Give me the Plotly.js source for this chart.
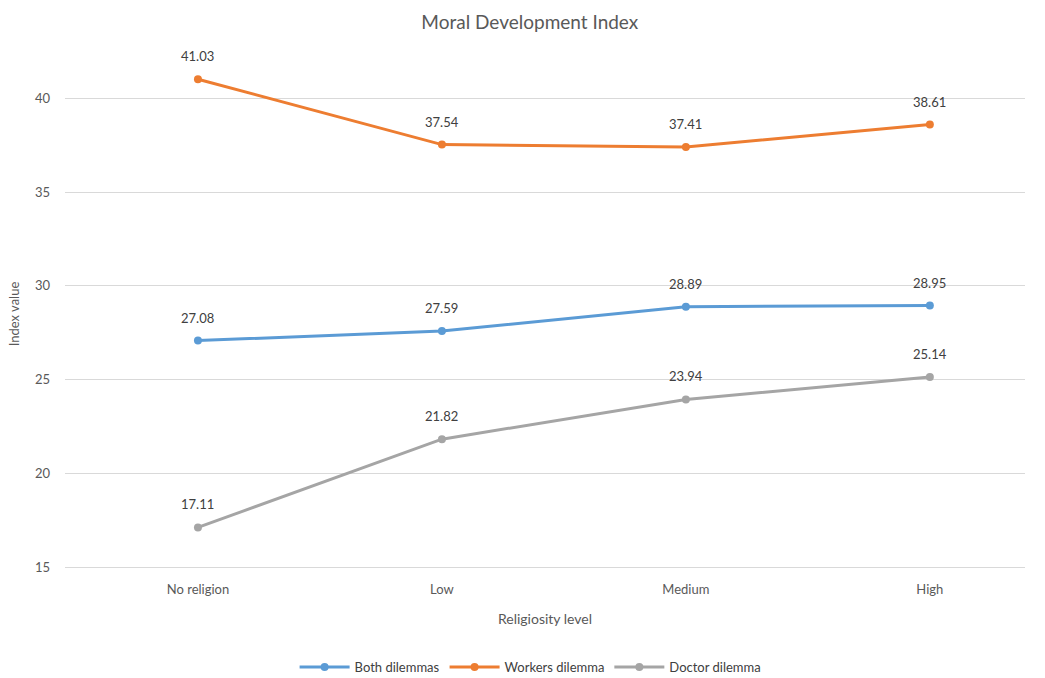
<!DOCTYPE html>
<html>
<head>
<meta charset="utf-8">
<script src="https://cdn.plot.ly/plotly-3.0.1.min.js"></script>
<style>html,body{margin:0;padding:0;background:#fff;}#chart{width:1045px;height:678px;}</style>
</head>
<body>
<div id="chart"></div>
<script>
const categories = ["No religion", "Low", "Medium", "High"];
const seriesNames = ["Both dilemmas", "Workers dilemma", "Doctor dilemma"];
const bothDilemmas = [27.08, 27.59, 28.89, 28.95];
const workersDilemma = [41.03, 37.54, 37.41, 38.61];
const doctorDilemma = [17.11, 21.82, 23.94, 25.14];
const yTicks = [15, 20, 25, 30, 35, 40];

const colors = ["#5B9BD5", "#ED7D31", "#A5A5A5"];
const allSeries = [bothDilemmas, workersDilemma, doctorDilemma];
const font = "Lato, 'Open Sans', sans-serif";

const traces = allSeries.map((vals, k) => ({
  x: categories.map((c, i) => i),
  y: vals,
  name: seriesNames[k],
  type: "scatter",
  mode: "lines+markers",
  line: {color: colors[k], width: 3},
  marker: {color: colors[k], size: 8},
  hoverinfo: "skip"
}));

const annotations = [];
allSeries.forEach((vals) => {
  vals.forEach((v, i) => {
    annotations.push({
      x: i, y: v, xref: "x", yref: "y",
      text: v.toFixed(2), showarrow: false, yshift: 23,
      font: {family: font, size: 13, color: "#404040"}
    });
  });
});

const layout = {
  width: 1045, height: 678,
  paper_bgcolor: "#fff", plot_bgcolor: "#fff",
  margin: {l: 65, r: 20, t: 61, b: 111},
  title: {text: "Moral Development Index", x: 0.507, xanchor: "center", y: 0.967, yanchor: "middle",
          font: {family: font, size: 19, color: "#595959"}},
  xaxis: {
    range: [-0.545, 3.39], tickvals: [0, 1, 2, 3], ticktext: categories,
    showgrid: false, zeroline: false, showline: true, linecolor: "#D9D9D9", linewidth: 1, ticks: "",
    tickfont: {family: font, size: 13, color: "#595959"}, ticklabelstandoff: 10,
    title: {text: "Religiosity level", font: {family: font, size: 14, color: "#595959"}, standoff: 18}
  },
  yaxis: {
    range: [15, 42], tickvals: yTicks,
    showgrid: true, gridcolor: "#D9D9D9", gridwidth: 1, zeroline: false, showline: false, ticks: "",
    tickfont: {family: font, size: 13, color: "#595959"}, ticklabelstandoff: 14,
    title: {text: "Index value", font: {family: font, size: 13, color: "#595959"}, standoff: 12}
  },
  legend: {orientation: "h", x: 0.485, xanchor: "center", yref: "container", y: 0.016, yanchor: "middle",
           font: {family: font, size: 13, color: "#404040"}, itemwidth: 50},
  annotations: annotations,
  showlegend: true
};

Plotly.newPlot("chart", traces, layout, {displayModeBar: false, staticPlot: true});
</script>
</body>
</html>
